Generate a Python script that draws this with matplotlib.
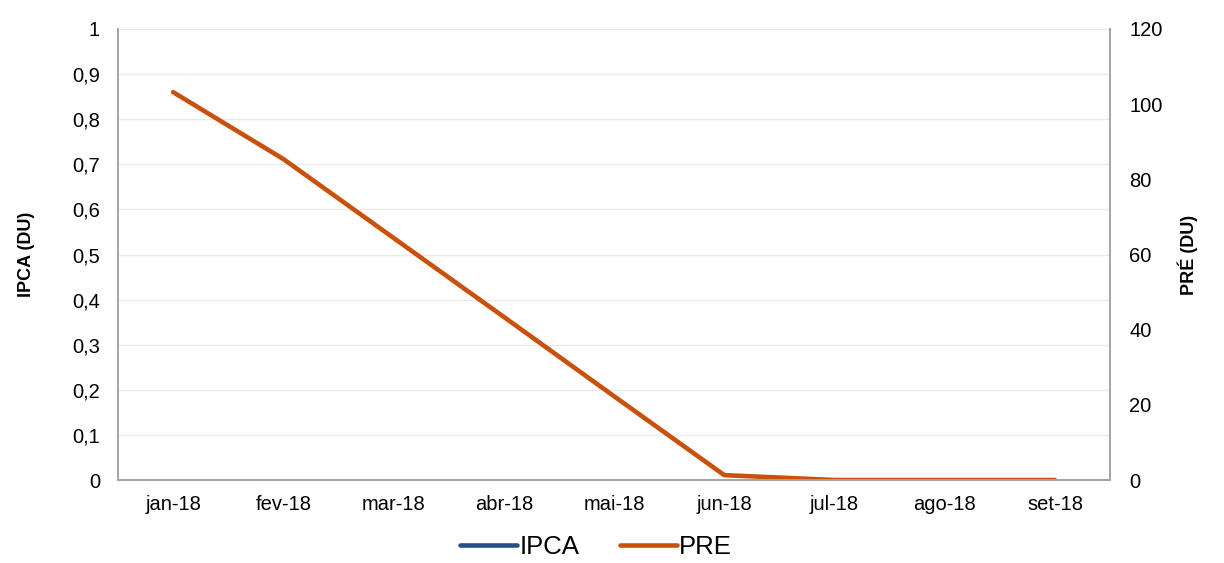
import numpy as np
import matplotlib
matplotlib.use('Agg')
import matplotlib.pyplot as plt
from matplotlib.ticker import FuncFormatter

plt.rcParams['font.family'] = ['Liberation Sans', 'DejaVu Sans']

# Dados
meses = ['jan-18', 'fev-18', 'mar-18', 'abr-18', 'mai-18', 'jun-18', 'jul-18', 'ago-18', 'set-18']
ipca = [np.nan] * 9  # série sem valores visíveis
pre = [103.2, 85.4, 64.4, 43.4, 22.3, 1.3, 0.0, 0.0, 0.0]

cor_ipca = '#264F8A'
cor_pre = '#C9510C'
cor_eixo = '#A6A6A6'

fig = plt.figure(figsize=(12.24, 5.63), dpi=100)
ax = fig.add_axes([0.0964, 0.1474, 0.8105, 0.8011])
ax2 = ax.twinx()

x = np.arange(len(meses))
l1, = ax.plot(x, ipca, color=cor_ipca, lw=3.3, solid_capstyle='round')
l2, = ax2.plot(x, pre, color=cor_pre, lw=3.3, solid_capstyle='round')

# Eixo esquerdo
ax.set_ylim(0, 1)
ax.set_yticks(np.arange(0, 1.01, 0.1))
ax.yaxis.set_major_formatter(FuncFormatter(lambda v, p: ('%g' % round(v, 1)).replace('.', ',')))
ax.set_xlim(-0.5, len(meses) - 0.5)
ax.set_xticks(x)
ax.set_xticklabels(meses)
ax.grid(axis='y', color='#EBEBEB', lw=1.0)
ax.set_axisbelow(True)

# Eixo direito
ax2.set_ylim(0, 120)
ax2.set_yticks(np.arange(0, 121, 20))

for a in (ax, ax2):
    a.spines['top'].set_visible(False)
    for s in ('left', 'right', 'bottom'):
        a.spines[s].set_color(cor_eixo)
        a.spines[s].set_linewidth(1.3)
    a.tick_params(length=0, labelsize=14.5, colors='#000000')
ax.tick_params(axis='y', pad=13)
ax.tick_params(axis='x', pad=11)
ax2.tick_params(axis='y', pad=14)

ax.set_ylabel('IPCA (DU)', fontsize=13, fontweight='bold')
ax.yaxis.set_label_coords(-0.084, 0.5)
ax2.set_ylabel('PRÉ (DU)', fontsize=13, fontweight='bold')
ax2.yaxis.set_label_coords(1.068, 0.5)

fig.legend([l1, l2], ['IPCA', 'PRE'], loc='center', bbox_to_anchor=(0.487, 0.028),
           ncol=2, frameon=False, fontsize=18.5, handlelength=2.2, handletextpad=0.1,
           columnspacing=1.6)

plt.savefig('out.png', dpi=100)
